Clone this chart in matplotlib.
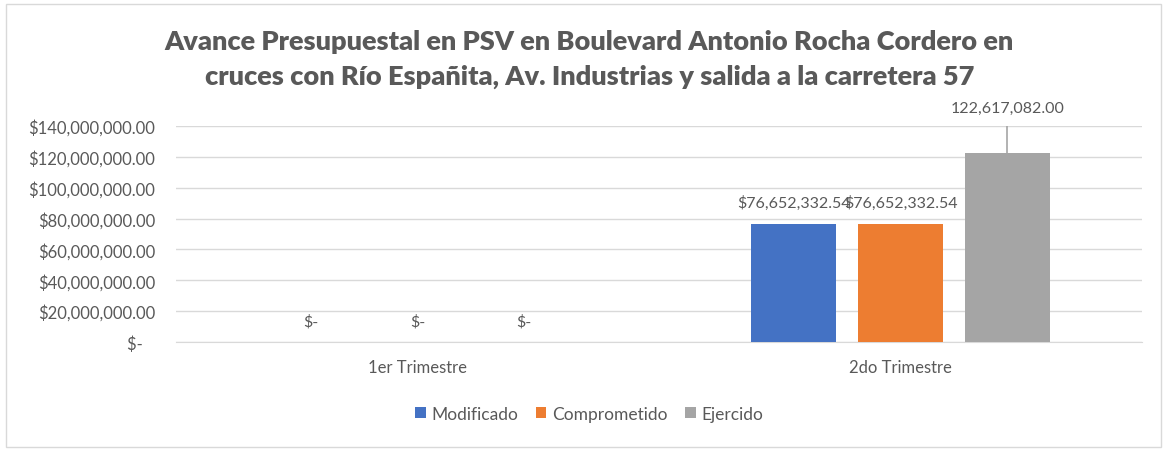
import matplotlib.pyplot as plt
from matplotlib.ticker import FuncFormatter
from matplotlib.patches import Rectangle
import numpy as np

plt.rcParams['font.family'] = ['Lato', 'DejaVu Sans']

categorias = ['1er Trimestre', '2do Trimestre']
series = ['Modificado', 'Comprometido', 'Ejercido']
modificado = [0, 76652332.54]
comprometido = [0, 76652332.54]
ejercido = [0, 122617082.00]
etiquetas = [
    ['$-', '$76,652,332.54'],
    ['$-', '$76,652,332.54'],
    ['$-', '122,617,082.00'],
]
colores = ['#4472C4', '#ED7D31', '#A5A5A5']
gris = '#595959'

fig = plt.figure(figsize=(11.67, 4.52), dpi=100)
ax = fig.add_axes([0.1508, 0.2412, 0.828, 0.4778])

x = np.arange(len(categorias))
ancho = 0.176
paso = 0.221
valores = [modificado, comprometido, ejercido]
for i, (nombre, vals, col) in enumerate(zip(series, valores, colores)):
    pos = x + (i - 1) * paso
    ax.bar(pos, vals, width=ancho, color=col, label=nombre, zorder=3)
    for j, (p, v) in enumerate(zip(pos, vals)):
        txt = etiquetas[i][j]
        if i == 2 and v > 0:
            # etiqueta con línea guía
            ax.plot([p, p], [v, v + 22e6], color='#A5A5A5', lw=1.2, zorder=2)
            ax.text(p, v + 24.5e6, txt, ha='center', va='bottom', fontsize=11.5, color=gris)
        else:
            ax.text(p, v + 9e6, txt, ha='center', va='bottom', fontsize=11.5, color=gris)

ax.set_xlim(-0.5, 1.5)
ax.set_ylim(0, 140e6)
ax.set_yticks(np.arange(0, 140e6 + 1, 20e6))


def fmt(v, pos):
    if v == 0:
        return '$-   '
    return '${:,.2f}'.format(v)


ax.yaxis.set_major_formatter(FuncFormatter(fmt))
ax.set_xticks(x)
ax.set_xticklabels(categorias)
ax.tick_params(axis='both', length=0, labelsize=12, labelcolor=gris)
ax.tick_params(axis='y', pad=15)
ax.tick_params(axis='x', pad=12)
ax.grid(axis='y', color='#D9D9D9', lw=1, zorder=0)
for s in ['top', 'right', 'left']:
    ax.spines[s].set_visible(False)
ax.spines['bottom'].set_color('#D9D9D9')
ax.set_facecolor('none')

fig.text(0.505, 0.907, 'Avance Presupuestal en PSV en Boulevard Antonio Rocha Cordero en',
         ha='center', va='center', fontsize=19.5, fontweight='heavy', color=gris)
fig.text(0.505, 0.830, 'cruces con Río Españita, Av. Industrias y salida a la carretera 57',
         ha='center', va='center', fontsize=19.5, fontweight='heavy', color=gris)

fig.legend(loc='center', bbox_to_anchor=(0.505, 0.082), ncol=3, frameon=False,
           fontsize=12.5, labelcolor=gris, handlelength=0.6, handleheight=0.6,
           handletextpad=0.35, columnspacing=1.0)

fig.patches.append(Rectangle((0.005, 0.008), 0.99, 0.98, transform=fig.transFigure,
                             fill=False, edgecolor='#D9D9D9', lw=1))

fig.savefig('out.png', dpi=100)
